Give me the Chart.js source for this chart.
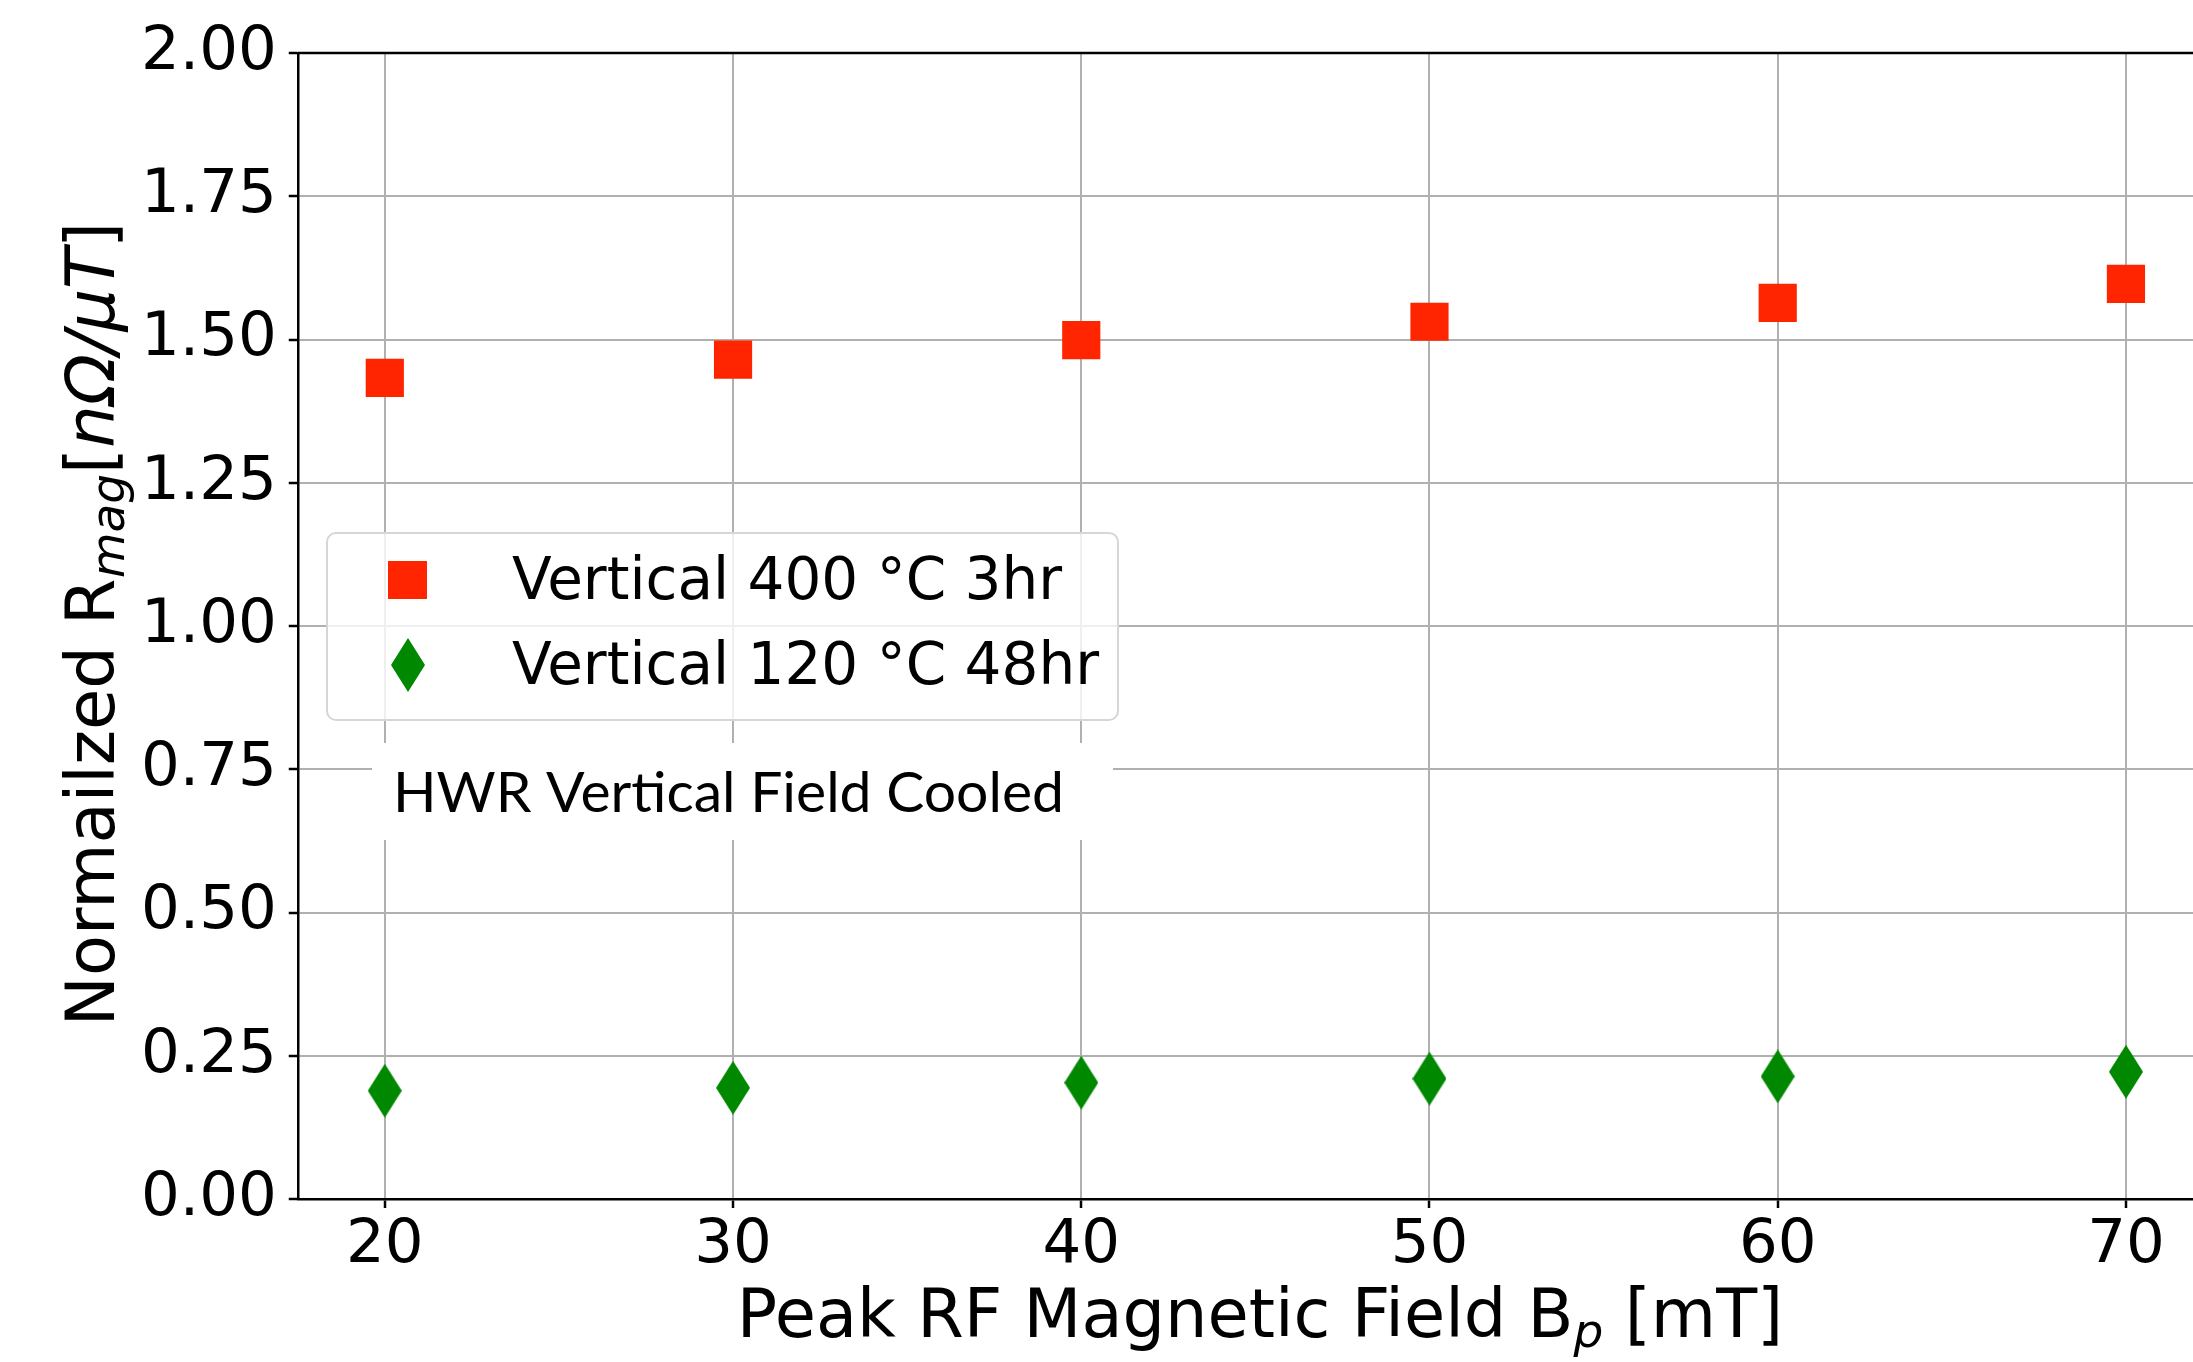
<!DOCTYPE html>
<html>
<head>
<meta charset="utf-8">
<script src="https://cdn.jsdelivr.net/npm/chart.js@4.4.1/dist/chart.umd.min.js"></script>
<style>
  html, body { margin: 0; padding: 0; background: #fff; overflow: hidden; }
  #wrap { width: 2240px; height: 1362px; }
</style>
</head>
<body>
<div id="wrap"><canvas id="rmag" width="2240" height="1362"></canvas></div>
<script>
// peak RF field (mT) and normalized R_mag values
const fieldB = [20, 30, 40, 50, 60, 70];
const rmag400C = [1.433, 1.465, 1.499, 1.531, 1.564, 1.597];
const rmag120C = [0.189, 0.194, 0.203, 0.210, 0.214, 0.222];
const seriesNames = ["Vertical 400 °C 3hr", "Vertical 120 °C 48hr"];
const xTicks = [20, 30, 40, 50, 60, 70];
const yTicks = [0, 0.25, 0.5, 0.75, 1.0, 1.25, 1.5, 1.75, 2.0];
const noteText = "HWR Vertical Field Cooled";

const red = "#ff2500";
const green = "#008800";
const tickFont = "DejaVu Sans";

// thin diamond like matplotlib's 'd' marker
function makeDiamond(w, h, color) {
  const c = document.createElement("canvas");
  c.width = w;
  c.height = h;
  const g = c.getContext("2d");
  g.fillStyle = color;
  g.beginPath();
  g.moveTo(w / 2, 0);
  g.lineTo(w, h / 2);
  g.lineTo(w / 2, h);
  g.lineTo(0, h / 2);
  g.closePath();
  g.fill();
  return c;
}
const diamond = makeDiamond(34, 54, green);

function drawSegments(ctx, segs, x, y, align) {
  let total = 0;
  segs.forEach(s => { ctx.font = s.font; total += ctx.measureText(s.text).width; });
  let cx = align === "center" ? x - total / 2 : x;
  ctx.textBaseline = "alphabetic";
  ctx.textAlign = "left";
  segs.forEach(s => {
    ctx.font = s.font;
    ctx.fillText(s.text, cx, y + (s.dy || 0));
    cx += ctx.measureText(s.text).width;
  });
}

const extras = {
  id: "extras",
  afterDatasetsDraw(chart) {
    const ctx = chart.ctx;
    const a = chart.chartArea;
    ctx.save();
    // top and right spines
    ctx.strokeStyle = "#000";
    ctx.lineWidth = 2.5;
    ctx.beginPath();
    ctx.moveTo(a.left, a.top);
    ctx.lineTo(a.right, a.top);
    ctx.lineTo(a.right, a.bottom);
    ctx.stroke();

    // note box
    ctx.fillStyle = "#fff";
    ctx.fillRect(372, 743, 741, 97);
    ctx.fillStyle = "#000";
    ctx.font = "56px Lato";
    ctx.textBaseline = "alphabetic";
    const w = ctx.measureText(noteText).width;
    ctx.save();
    ctx.translate(393, 812);
    ctx.scale(671 / w, 1);
    ctx.fillText(noteText, 0, 0);
    ctx.restore();

    // legend
    const lx = 327, ly = 533, lw = 791, lh = 187;
    ctx.beginPath();
    ctx.roundRect(lx, ly, lw, lh, 9);
    ctx.fillStyle = "rgba(255,255,255,0.8)";
    ctx.fill();
    ctx.strokeStyle = "#d6d6d6";
    ctx.lineWidth = 2;
    ctx.stroke();
    ctx.fillStyle = red;
    ctx.fillRect(388, 561, 39, 38);
    ctx.drawImage(diamond, 408 - 17, 665 - 27);
    ctx.fillStyle = "#000";
    ctx.font = "58px " + tickFont;
    ctx.fillText(chart.data.datasets[0].label, 512, 599);
    ctx.fillText(chart.data.datasets[1].label, 512, 684);

    // axis titles
    const big = "67px " + tickFont;
    const sub = "italic 47px " + tickFont;
    const ital = "italic 67px " + tickFont;
    drawSegments(ctx, [
      { text: "Peak RF Magnetic Field B", font: big },
      { text: "p", font: sub, dy: 10 },
      { text: " [mT]", font: big }
    ], 1260, 1337, "center");

    ctx.save();
    ctx.translate(114, 624);
    ctx.rotate(-Math.PI / 2);
    drawSegments(ctx, [
      { text: "Normailzed R", font: big },
      { text: "mag", font: sub, dy: 10 },
      { text: "[", font: big },
      { text: "nΩ/μT", font: ital },
      { text: "]", font: big }
    ], 0, 0, "center");
    ctx.restore();
    ctx.restore();
  }
};

new Chart(document.getElementById("rmag"), {
  type: "scatter",
  data: {
    datasets: [
      {
        label: seriesNames[0],
        data: fieldB.map((x, i) => ({ x: x, y: rmag400C[i] })),
        pointStyle: "rect",
        pointRadius: 27,
        backgroundColor: red,
        borderWidth: 0
      },
      {
        label: seriesNames[1],
        data: fieldB.map((x, i) => ({ x: x, y: rmag120C[i] })),
        pointStyle: diamond,
        backgroundColor: green,
        borderWidth: 0
      }
    ]
  },
  options: {
    responsive: false,
    animation: false,
    events: [],
    layout: { padding: { top: 53, right: 19, bottom: 0, left: 0 } },
    plugins: { legend: { display: false }, tooltip: { enabled: false } },
    scales: {
      x: {
        type: "linear",
        min: 17.5,
        max: 72.5,
        afterBuildTicks: s => { s.ticks = xTicks.map(v => ({ value: v })); },
        afterFit: s => { s.height = 163; s.paddingLeft = 0; s.paddingRight = 0; },
        grid: { color: "#b0b0b0", lineWidth: 2, tickColor: "#000", tickLength: 9, tickWidth: 2.5 },
        border: { color: "#000", width: 2.5 },
        ticks: { font: { family: tickFont, size: 61 }, color: "#000", padding: 2, maxRotation: 0 }
      },
      y: {
        min: 0,
        max: 2,
        afterBuildTicks: s => { s.ticks = yTicks.map(v => ({ value: v })); },
        afterFit: s => { s.width = 297.75; s.paddingTop = 0; s.paddingBottom = 0; },
        grid: { color: "#b0b0b0", lineWidth: 2, tickColor: "#000", tickLength: 9, tickWidth: 2.5 },
        border: { color: "#000", width: 2.5 },
        ticks: {
          font: { family: tickFont, size: 61 },
          color: "#000",
          padding: 12,
          callback: v => v.toFixed(2)
        }
      }
    }
  },
  plugins: [extras]
});
</script>
</body>
</html>
